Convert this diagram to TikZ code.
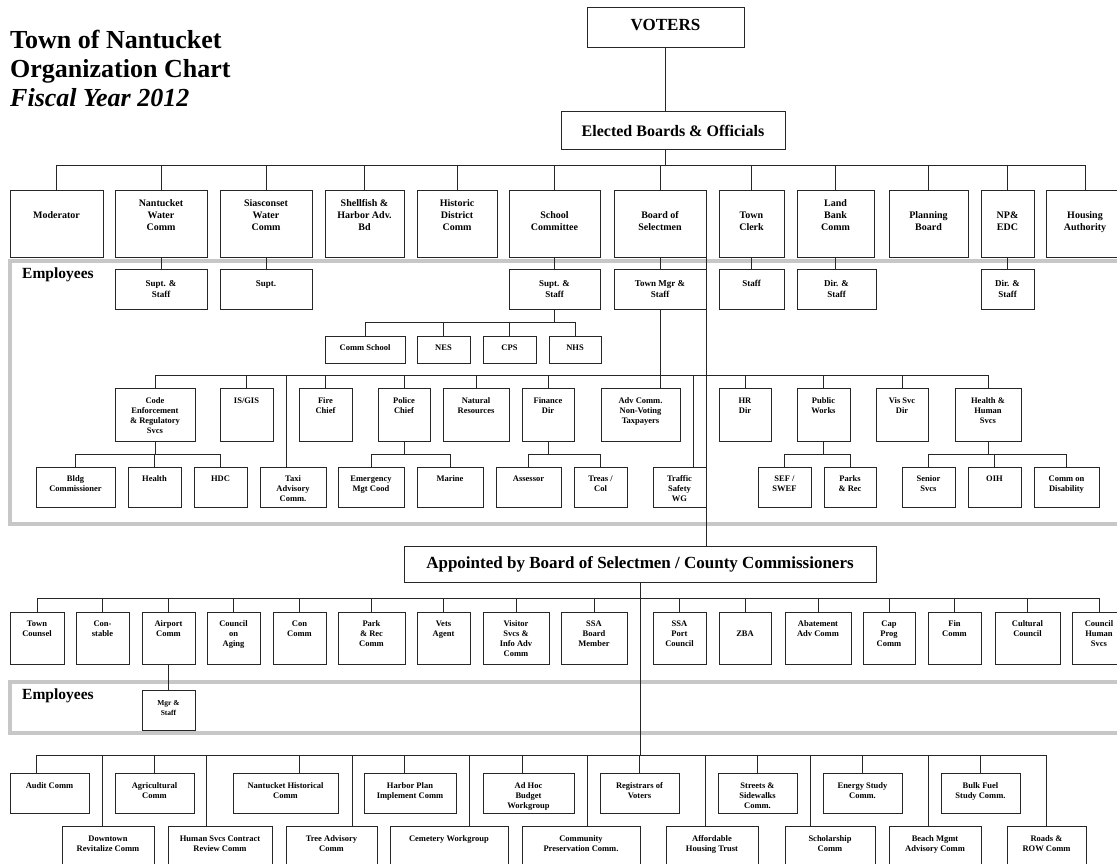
\documentclass[tikz,border=0pt]{standalone}
\usepackage{fontspec}
\setmainfont{Liberation Serif}
\usetikzlibrary{calc}
\tikzset{
 obox/.style={draw=black!85, line width=0.9pt, fill=white, inner sep=0pt, outer sep=0pt, font=\bfseries\fontsize{8.5}{10}\selectfont},
 topf/.style={font=\bfseries\fontsize{10}{12}\selectfont},
 midf/.style={font=\bfseries\fontsize{9}{11}\selectfont},
 bigf/.style={font=\bfseries\fontsize{17}{20}\selectfont},
 elf/.style={font=\bfseries\fontsize{16}{19}\selectfont},
 smf/.style={font=\bfseries\fontsize{7.5}{10}\selectfont},
 conn/.style={draw=black!85, line width=0.8pt},
 empframe/.style={draw=black!22, line width=4pt},
 titlef/.style={font=\bfseries\fontsize{26}{30}\selectfont, inner sep=0pt},
 empf/.style={font=\bfseries\fontsize{15.5}{18}\selectfont, inner sep=0pt},
}
\newcommand\orgbox[8][]{%
  \pgfmathsetmacro\obw{#5-#3}%
  \pgfmathsetmacro\obh{#6-#4}%
  \node[obox,#1,minimum width=\obw pt,minimum height=\obh pt] (#2) at ({(#3+#5)/2},{(#4+#6)/2})
   {\begin{minipage}[c][\obh pt][t]{\obw pt}\centering\rule{0pt}{#7pt}#8\end{minipage}};}
\begin{document}
\begin{tikzpicture}[x=1pt,y=-1pt]
\useasboundingbox (0,0) rectangle (1117,863);
\clip (0,0) rectangle (1117,863);
\fill[white] (0,0) rectangle (1117,863);
% employee frames
\draw[empframe] (10,261) rectangle (1140,524);
\draw[empframe] (10,682) rectangle (1140,733);
% title
\node[titlef, anchor=base west] (t1) at (10,48) {Town of Nantucket};
\node[titlef, anchor=base west] (t2) at (10,77) {Organization Chart};
\node[titlef, anchor=base west] (t3) at (10,106) {\itshape Fiscal Year 2012};
\node[empf, anchor=base west] (e1) at (22,278) {Employees};
\node[empf, anchor=base west] (e2) at (22,699) {Employees};
% top
\orgbox[bigf]{voters}{587}{7}{744}{47}{23.6}{VOTERS}
\orgbox[elf]{el}{561}{111}{785}{149}{25}{Elected Boards \& Officials}
% top row
\orgbox[topf]{mod}{10}{190}{103}{257}{16.5}{\\Moderator}
\orgbox[topf]{nwc}{115}{190}{207}{257}{16.5}{Nantucket\\Water\\Comm}
\orgbox[topf]{swc}{220}{190}{312}{257}{16.5}{Siasconset\\Water\\Comm}
\orgbox[topf]{shf}{325}{190}{404}{257}{16.5}{Shellfish \&\\Harbor Adv.\\Bd}
\orgbox[topf]{hdc}{417}{190}{497}{257}{16.5}{Historic\\District\\Comm}
\orgbox[topf]{sch}{509}{190}{600}{257}{16.5}{\\School\\Committee}
\orgbox[topf]{bos}{614}{190}{706}{257}{16.5}{\\Board of\\Selectmen}
\orgbox[topf]{tcl}{719}{190}{784}{257}{16.5}{\\Town\\Clerk}
\orgbox[topf]{lbc}{797}{190}{874}{257}{16.5}{Land\\Bank\\Comm}
\orgbox[topf]{plb}{889}{190}{968}{257}{16.5}{\\Planning\\Board}
\orgbox[topf]{np}{981}{190}{1034}{257}{16.5}{\\NP\&\\EDC}
\orgbox[topf]{ha}{1046}{190}{1124}{257}{16.5}{\\Housing\\Authority}
% row 2
\orgbox[midf]{nws}{115}{269}{207}{309}{17}{Supt. \&\\Staff}
\orgbox[midf]{sws}{220}{269}{312}{309}{17}{Supt.}
\orgbox[midf]{ssup}{509}{269}{600}{309}{17}{Supt. \&\\Staff}
\orgbox[midf]{tm}{614}{269}{706}{309}{17}{Town Mgr \&\\Staff}
\orgbox[midf]{tcs}{719}{269}{784}{309}{17}{Staff}
\orgbox[midf]{lbs}{797}{269}{876}{309}{17}{Dir. \&\\Staff}
\orgbox[midf]{nps}{981}{269}{1034}{309}{17}{Dir. \&\\Staff}
% schools
\orgbox{cs}{325}{336}{405}{363}{14.5}{Comm School}
\orgbox{nes}{417}{336}{470}{363}{14.5}{NES}
\orgbox{cps}{483}{336}{536}{363}{14.5}{CPS}
\orgbox{nhs}{549}{336}{601}{363}{14.5}{NHS}
% level 3
\orgbox{code}{115}{388}{195}{441}{15}{Code\\Enforcement\\\& Regulatory\\Svcs}
\orgbox{isg}{220}{388}{273}{441}{15}{IS/GIS}
\orgbox{fire}{299}{388}{352}{441}{15}{Fire\\Chief}
\orgbox{pol}{378}{388}{430}{441}{15}{Police\\Chief}
\orgbox{nat}{443}{388}{509}{441}{15}{Natural\\Resources}
\orgbox{fin}{522}{388}{574}{441}{15}{Finance\\Dir}
\orgbox{adv}{601}{388}{680}{441}{15}{Adv Comm.\\Non-Voting\\Taxpayers}
\orgbox{hr}{719}{388}{771}{441}{15}{HR\\Dir}
\orgbox{pw}{797}{388}{850}{441}{15}{Public\\Works}
\orgbox{vis}{876}{388}{928}{441}{15}{Vis Svc\\Dir}
\orgbox{hhs}{955}{388}{1021}{441}{15}{Health \&\\Human\\Svcs}
% level 4
\orgbox{bldg}{36}{467}{115}{507}{14}{Bldg\\Commissioner}
\orgbox{hlth}{128}{467}{181}{507}{14}{Health}
\orgbox{hdcb}{194}{467}{247}{507}{14}{HDC}
\orgbox{taxi}{260}{467}{326}{507}{14}{Taxi\\Advisory\\Comm.}
\orgbox{emg}{338}{467}{404}{507}{14}{Emergency\\Mgt Cood}
\orgbox{mar}{417}{467}{483}{507}{14}{Marine}
\orgbox{ass}{496}{467}{561}{507}{14}{Assessor}
\orgbox{tre}{574}{467}{627}{507}{14}{Treas /\\Col}
\orgbox{trf}{653}{467}{706}{507}{14}{Traffic\\Safety\\WG}
\orgbox{sef}{758}{467}{811}{507}{14}{SEF /\\SWEF}
\orgbox{prk}{824}{467}{876}{507}{14}{Parks\\\& Rec}
\orgbox{sen}{902}{467}{955}{507}{14}{Senior\\Svcs}
\orgbox{oih}{968}{467}{1021}{507}{14}{OIH}
\orgbox{dis}{1034}{467}{1099}{507}{14}{Comm on\\Disability}
% appointed
\orgbox[bigf]{app}{404}{546}{876}{582}{22.6}{Appointed by Board of Selectmen / County Commissioners}
\orgbox{tc}{10}{612}{64}{664}{14.5}{Town\\Counsel}
\orgbox{cst}{76}{612}{129}{664}{14.5}{Con-\\stable}
\orgbox{air}{142}{612}{195}{664}{14.5}{Airport\\Comm}
\orgbox{coa}{207}{612}{260}{664}{14.5}{Council\\on\\Aging}
\orgbox{cc}{273}{612}{326}{664}{14.5}{Con\\Comm}
\orgbox{prc}{338}{612}{405}{664}{14.5}{Park\\\& Rec\\Comm}
\orgbox{vet}{417}{612}{470}{664}{14.5}{Vets\\Agent}
\orgbox{vsa}{483}{612}{549}{664}{14.5}{Visitor\\Svcs \&\\Info Adv\\Comm}
\orgbox{ssab}{561}{612}{627}{664}{14.5}{SSA\\Board\\Member}
\orgbox{ssap}{653}{612}{706}{664}{14.5}{SSA\\Port\\Council}
\orgbox{zba}{719}{612}{771}{664}{14.5}{\\ZBA}
\orgbox{aba}{785}{612}{851}{664}{14.5}{Abatement\\Adv Comm}
\orgbox{cap}{863}{612}{915}{664}{14.5}{Cap\\Prog\\Comm}
\orgbox{fc}{928}{612}{981}{664}{14.5}{Fin\\Comm}
\orgbox{cul}{995}{612}{1060}{664}{14.5}{Cultural\\Council}
\orgbox{chs}{1072}{612}{1126}{664}{14.5}{Council\\Human\\Svcs}
\orgbox[smf]{mgr}{142}{690}{195}{730}{15}{Mgr \&\\Staff}
% bottom upper
\orgbox{aud}{10}{773}{89}{813}{15}{Audit Comm}
\orgbox{agr}{115}{773}{194}{813}{15}{Agricultural\\Comm}
\orgbox{nhc}{233}{773}{338}{813}{15}{Nantucket Historical\\Comm}
\orgbox{hpi}{364}{773}{456}{813}{15}{Harbor Plan\\Implement Comm}
\orgbox{adh}{483}{773}{574}{813}{15}{Ad Hoc\\Budget\\Workgroup}
\orgbox{reg}{600}{773}{679}{813}{15}{Registrars of\\Voters}
\orgbox{stw}{718}{773}{797}{813}{15}{Streets \&\\Sidewalks\\Comm.}
\orgbox{ene}{823}{773}{902}{813}{15}{Energy Study\\Comm.}
\orgbox{blk}{941}{773}{1020}{813}{15}{Bulk Fuel\\Study Comm.}
% bottom lower
\orgbox{dtn}{62}{826}{154}{875}{15}{Downtown\\Revitalize Comm}
\orgbox{hsc}{168}{826}{272}{875}{15}{Human Svcs Contract\\Review Comm}
\orgbox{tree}{286}{826}{377}{875}{15}{Tree Advisory\\Comm}
\orgbox{cem}{390}{826}{508}{875}{15}{Cemetery Workgroup}
\orgbox{cpc}{522}{826}{640}{875}{15}{Community\\Preservation Comm.}
\orgbox{aht}{666}{826}{758}{875}{15}{Affordable\\Housing Trust}
\orgbox{schc}{785}{826}{875}{875}{15}{Scholarship\\Comm}
\orgbox{bch}{889}{826}{981}{875}{15}{Beach Mgmt\\Advisory Comm}
\orgbox{rds}{1007}{826}{1086}{875}{15}{Roads \&\\ROW Comm}
% connectors
\draw[conn] (voters.south) -- (voters.south |- el.north);
\foreach \n in {mod,nwc,swc,shf,hdc,sch,bos,tcl,lbc,plb,np,ha}
  \draw[conn] ([xshift=-7.5pt]el.south) -- ++(0,16) -| (\n.north);
\draw[conn] (nwc.south) -- (nws.north);
\draw[conn] (swc.south) -- (sws.north);
\draw[conn] (sch.south) -- (ssup.north);
\draw[conn] (bos.south) -- (tm.north);
\draw[conn] (tcl.south) -- (tcs.north);
\draw[conn] (lbc.south) -- (lbc.south |- lbs.north);
\draw[conn] (np.south) -- (nps.north);
\foreach \n in {cs,nes,cps,nhs}
  \draw[conn] (ssup.south) -- ++(0,13) -| (\n.north);
\foreach \n/\d in {code/0,isg/0,taxi/-7,fire/0,pol/0,nat/0,fin/0,trf/14,hr/0,pw/0,vis/0,hhs/0}
  \draw[conn] (tm.south) -- ++(0,66) -| ([xshift=\d pt]\n.north);
\draw[conn] (tm.south) -- (tm.south |- adv.north);
\foreach \p/\c in {code/bldg,code/hlth,code/hdcb,pol/emg,pol/mar,fin/ass,fin/tre,pw/sef,pw/prk,hhs/sen,hhs/oih,hhs/dis}
  \draw[conn] (\p.south) -- ++(0,13) -| (\c.north);
\draw[conn] (bos.south east) -- (bos.south east |- app.north);
\foreach \n in {tc,cst,air,coa,cc,prc,vet,vsa,ssab,ssap,zba,aba,cap,fc,cul,chs}
  \draw[conn] (app.south) -- ++(0,16) -| (\n.north);
\draw[conn] (air.south) -- (mgr.north);
\foreach \n/\d in {aud/-13.5,agr/0,nhc/13.5,hpi/-6,adh/-6.5,reg/0,stw/0,ene/0,blk/0,dtn/-6,hsc/-14,tree/20.5,cem/20,cpc/6,aht/-7,schc/-19.5,bch/-7,rds/0}
  \draw[conn] (app.south) -- ++(0,173) -| ([xshift=\d pt]\n.north);
\end{tikzpicture}
\end{document}
